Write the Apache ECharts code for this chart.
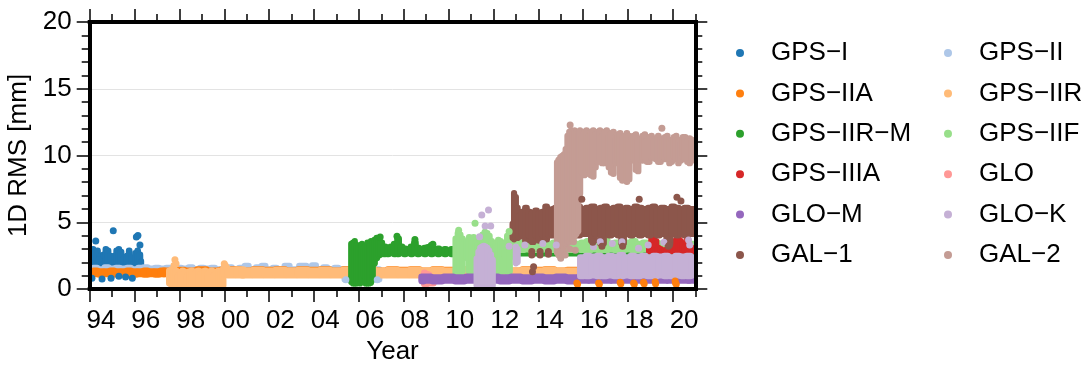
<!DOCTYPE html>
<html>
<head>
<meta charset="utf-8">
<script src="https://cdn.jsdelivr.net/npm/echarts@6/dist/echarts.min.js"></script>
<style>
  html, body { margin: 0; padding: 0; background: #fff; }
  #chart { width: 1091px; height: 365px; }
</style>
</head>
<body>
<div id="chart"></div>
<script>
// ---- data: satellite-block RMS clouds, [year, low, high] envelopes plus single points [year, value] ----
const gpsI_band = [[1994.05,1.3,3.0],[1994.15,1.3,3.1],[1994.25,1.3,2.9],[1994.35,1.3,3.0],[1994.45,1.3,2.6],[1994.53,1.3,2.0],[1994.62,1.3,2.7],[1994.72,1.3,3.1],[1994.82,1.3,3.0],[1994.92,1.3,2.6],[1995.0,1.3,2.0],[1995.1,1.3,2.6],[1995.2,1.3,3.0],[1995.3,1.3,3.1],[1995.4,1.3,2.9],[1995.5,1.3,2.4],[1995.58,1.3,1.9],[1995.66,1.3,2.6],[1995.76,1.3,3.0],[1995.86,1.3,2.5],[1995.95,1.3,2.0],[1996.04,1.3,2.8],[1996.14,1.3,3.0],[1996.24,1.3,2.7],[1996.3,1.3,2.2]];
const gpsI_dots = [[1994.1,0.8],[1994.27,3.6],[1994.55,0.75],[1994.95,0.8],[1995.05,4.37],[1995.3,0.95],[1995.6,0.9],[1996.08,3.9],[1996.15,4.0],[1996.24,3.3],[1994.4,2.2],[1995.9,0.8]];

const gpsII_band = [[1994.0,1.1,1.65],[1994.25,1.1,1.7],[1994.5,1.1,1.6],[1994.75,1.1,1.75],[1995.0,1.1,1.65],[1995.25,1.1,1.7],[1995.5,1.1,1.65],[1995.75,1.1,1.7],[1996.0,1.1,1.6],[1996.25,1.1,1.7],[1996.5,1.1,1.75],[1996.75,1.1,1.65],[1997.0,1.1,1.7],[1997.25,1.1,1.65],[1997.5,1.1,1.7],[1997.75,1.1,1.6],[1998.0,1.1,1.7],[1998.25,1.1,1.65],[1998.5,1.1,1.75],[1998.75,1.1,1.6],[1999.0,1.1,1.7],[1999.25,1.1,1.65],[1999.5,1.1,1.7],[1999.75,1.1,1.6],[2000.0,1.1,1.65],[2000.25,1.1,1.75],[2000.5,1.1,1.6],[2000.75,1.1,1.7],[2001.0,1.1,1.85],[2001.25,1.1,1.6],[2001.5,1.1,1.75],[2001.75,1.1,1.85],[2002.0,1.1,1.6],[2002.25,1.1,1.7],[2002.5,1.1,1.6],[2002.8,1.1,1.85],[2003.1,1.1,1.6],[2003.5,1.1,1.85],[2003.75,1.1,1.6],[2004.0,1.1,1.9],[2004.25,1.1,1.6],[2004.5,1.1,1.75],[2004.75,1.1,1.6],[2005.0,1.1,1.7],[2005.25,1.0,1.6],[2005.45,0.6,1.6],[2005.7,0.9,1.6],[2006.0,0.9,1.7],[2006.25,1.0,1.6],[2006.5,1.0,1.7],[2006.8,0.6,1.6]];
const gpsII_dots = [[2005.42,0.7],[2006.82,0.7]];

const gpsIIA_band = [[1994.0,0.95,1.45],[1994.25,1.0,1.5],[1994.5,0.95,1.45],[1994.75,1.0,1.45],[1995.0,0.95,1.5],[1995.25,1.0,1.45],[1995.5,0.95,1.45],[1995.75,1.0,1.5],[1996.0,0.95,1.45],[1996.25,1.0,1.45],[1996.5,0.95,1.5],[1996.75,1.0,1.45],[1997.0,0.95,1.45],[1997.25,1.0,1.5],[1997.5,1.0,1.5],[1998.0,1.0,1.55],[1998.5,1.0,1.5],[1999.0,1.0,1.6],[1999.5,1.0,1.5],[2000.0,1.0,1.55],[2000.5,1.0,1.6],[2001.0,1.0,1.5],[2001.5,1.0,1.6],[2002.0,1.0,1.55],[2002.5,1.0,1.6],[2003.0,1.0,1.5],[2003.5,1.0,1.6],[2004.0,1.0,1.55],[2004.5,1.0,1.6],[2005.0,1.0,1.5],[2005.5,1.0,1.6],[2006.0,1.0,1.55],[2006.5,1.0,1.6],[2007.0,1.0,1.5],[2007.5,1.0,1.6],[2008.0,1.0,1.55],[2008.5,1.0,1.6],[2009.0,1.0,1.5],[2009.5,1.0,1.6],[2010.0,1.0,1.55],[2010.5,1.0,1.6],[2011.0,1.0,1.5],[2011.5,1.0,1.6],[2012.0,1.0,1.55],[2012.5,1.0,1.6],[2013.0,1.0,1.5],[2013.5,1.0,1.6],[2014.0,1.0,1.55],[2014.5,1.0,1.6],[2015.0,1.0,1.5],[2015.5,1.0,1.55],[2016.0,1.0,1.5],[2016.5,1.0,1.5],[2017.0,1.0,1.5],[2017.5,1.0,1.5],[2018.0,1.0,1.5],[2018.5,1.0,1.5],[2019.0,1.0,1.5],[2019.5,1.0,1.5],[2020.0,1.0,1.5],[2020.5,1.0,1.5],[2020.85,1.0,1.45]];
const gpsIIA_dots = [[2015.72,0.45],[2015.75,0.35],[2016.69,0.45],[2016.72,0.35],[2017.65,0.5],[2017.68,0.4],[2018.25,0.45],[2018.28,0.35],[2018.69,0.5],[2018.72,0.4],[2019.21,0.55],[2019.23,0.4],[2020.1,0.6],[2020.12,0.45],[2020.15,0.35]];

const gpsIIR_band = [[1997.55,0.3,1.5],[1997.65,0.15,1.6],[1997.75,0.1,1.9],[1997.85,0.15,1.5],[1997.95,0.3,1.2],[1998.05,0.15,1.4],[1998.15,0.1,1.5],[1998.25,0.2,1.4],[1998.35,0.4,1.15],[1998.45,0.15,1.45],[1998.55,0.1,1.5],[1998.65,0.2,1.2],[1998.75,0.1,1.45],[1998.85,0.15,1.5],[1998.95,0.3,1.2],[1999.05,0.1,1.45],[1999.15,0.15,1.5],[1999.25,0.35,1.2],[1999.35,0.1,1.45],[1999.45,0.15,1.5],[1999.55,0.3,1.15],[1999.65,0.1,1.4],[1999.75,0.15,1.5],[1999.85,0.1,1.45],[1999.95,0.15,1.6],[2000.05,0.95,1.7],[2000.3,0.9,1.55],[2000.7,0.9,1.6],[2001.0,0.9,1.5],[2001.5,0.9,1.55],[2002.0,0.9,1.5],[2002.5,0.9,1.55],[2003.0,0.9,1.5],[2003.5,0.9,1.55],[2004.0,0.9,1.5],[2004.5,0.9,1.55],[2005.0,0.9,1.5],[2005.5,0.9,1.55],[2006.0,0.9,1.5],[2006.5,0.9,1.55],[2007.0,0.9,1.5],[2007.5,0.9,1.55],[2008.0,0.9,1.5],[2008.5,0.9,1.55],[2009.0,0.9,1.5],[2009.5,0.9,1.55],[2010.0,0.9,1.5],[2010.5,0.9,1.55],[2011.0,0.9,1.5],[2011.5,0.9,1.55],[2012.0,0.9,1.5],[2012.5,0.9,1.55],[2013.0,0.9,1.5],[2013.5,0.9,1.55],[2014.0,0.9,1.5],[2014.5,0.9,1.55],[2015.0,0.9,1.5],[2015.5,0.9,1.5],[2016.0,0.9,1.45],[2017.0,0.9,1.45],[2018.0,0.9,1.45],[2019.0,0.9,1.45],[2020.0,0.9,1.45],[2020.85,0.9,1.45]];
const gpsIIR_dots = [[1997.8,2.2],[1997.85,1.9],[2000.0,1.9],[2000.05,1.75]];

const gpsIIRM_band = [[2005.66,0.4,3.5],[2005.74,0.3,3.6],[2005.82,0.3,3.7],[2005.9,0.3,3.4],[2005.98,0.35,3.2],[2006.06,0.3,3.4],[2006.14,0.5,3.5],[2006.22,0.9,3.2],[2006.3,0.3,3.3],[2006.38,0.3,3.6],[2006.46,0.3,3.5],[2006.54,0.35,3.7],[2006.62,0.6,3.6],[2006.7,1.8,3.8],[2006.8,2.2,3.95],[2006.9,2.4,3.8],[2007.0,2.5,3.6],[2007.15,2.5,3.3],[2007.3,2.5,3.2],[2007.45,2.6,3.3],[2007.6,2.5,3.5],[2007.75,2.5,3.9],[2007.9,2.6,3.3],[2008.05,2.5,3.15],[2008.2,2.6,3.1],[2008.35,2.5,3.3],[2008.5,2.6,3.6],[2008.65,2.5,3.2],[2008.8,2.6,3.1],[2008.95,2.5,3.2],[2009.1,2.6,3.25],[2009.25,2.5,3.4],[2009.4,2.6,3.1],[2009.55,2.5,3.15],[2009.7,2.6,3.0],[2009.85,2.5,3.1],[2010.0,2.6,3.0],[2010.15,2.5,3.1],[2010.3,2.5,3.0],[2010.5,2.5,3.0],[2011.0,2.5,2.95],[2011.5,2.45,3.0],[2012.0,2.5,2.95],[2012.5,2.5,3.0],[2013.0,2.55,2.95],[2013.5,2.55,3.0],[2014.0,2.55,2.95],[2014.5,2.55,3.0],[2015.0,2.55,2.95],[2015.5,2.55,3.0],[2016.0,2.55,2.95],[2016.5,2.55,3.0],[2017.0,2.55,2.95],[2017.5,2.55,3.0],[2018.0,2.55,2.95],[2018.5,2.55,3.0],[2019.0,2.55,2.95],[2019.5,2.55,3.0],[2020.0,2.55,2.95],[2020.5,2.55,3.0],[2020.85,2.55,2.95]];
const gpsIIRM_dots = [[2006.95,3.9],[2007.7,3.95],[2008.5,3.7],[2009.3,3.35]];

const gpsIIF_band = [[2010.32,1.1,3.9],[2010.42,1.05,4.3],[2010.52,1.05,4.2],[2010.62,1.2,3.9],[2010.72,2.4,3.6],[2010.82,2.2,3.7],[2010.92,1.2,4.0],[2011.02,1.1,3.9],[2011.12,1.15,4.0],[2011.22,2.2,3.6],[2011.32,2.3,3.5],[2011.42,2.3,3.9],[2011.52,2.3,4.2],[2011.62,1.6,4.4],[2011.72,1.6,4.3],[2011.82,1.6,4.1],[2011.92,2.2,3.7],[2012.02,2.3,3.5],[2012.12,1.2,3.6],[2012.22,1.15,3.8],[2012.32,1.15,3.7],[2012.42,1.2,3.5],[2012.52,2.3,3.6],[2012.62,1.15,4.1],[2012.72,1.2,4.2],[2012.82,2.3,3.7],[2012.92,2.5,3.5],[2013.0,2.8,3.5],[2013.25,2.8,3.6],[2013.5,2.85,3.4],[2013.75,2.8,3.6],[2014.0,2.8,3.5],[2014.25,2.85,3.6],[2014.5,2.8,3.5],[2014.75,2.8,3.6],[2015.0,2.85,3.5],[2015.25,2.8,3.6],[2015.5,2.8,3.7],[2015.75,2.85,3.5],[2016.0,2.8,3.6],[2016.25,2.8,3.7],[2016.5,2.85,3.5],[2016.75,2.8,3.6],[2017.0,2.8,3.8],[2017.25,2.85,3.5],[2017.5,2.8,3.6],[2017.75,2.8,3.5],[2018.0,2.85,3.6],[2018.25,2.8,3.7],[2018.5,2.8,3.5],[2018.75,2.85,3.6],[2019.0,2.8,3.5],[2019.25,2.8,3.6],[2019.5,2.85,3.5],[2019.75,2.8,3.6],[2020.0,2.8,3.5],[2020.25,2.85,3.6],[2020.5,2.8,3.5],[2020.85,2.8,3.5]];
const gpsIIF_dots = [[2011.18,4.92],[2010.45,4.4],[2012.7,4.3]];

const gpsIIIA_band = [[2018.95,2.7,3.4],[2019.05,2.7,3.9],[2019.15,2.7,4.3],[2019.25,2.7,3.7],[2019.35,2.7,3.2],[2019.45,2.7,3.1],[2019.55,2.8,3.0],[2019.65,2.8,3.0],[2019.75,2.7,3.1],[2019.85,2.7,3.3],[2019.95,2.7,3.6],[2020.05,2.7,3.5],[2020.15,2.7,3.8],[2020.25,2.7,4.2],[2020.35,2.7,3.7],[2020.45,2.7,3.5],[2020.55,2.7,3.3],[2020.65,2.7,3.9],[2020.75,2.7,3.4],[2020.85,2.7,3.2]];
const gpsIIIA_dots = [];

const glo_band = [[2008.92,0.25,1.35],[2009.02,0.25,1.25],[2009.12,0.3,1.2],[2009.22,0.3,1.0],[2009.32,0.3,0.8]];
const glo_dots = [];

const gloM_band = [[2008.85,0.45,1.0],[2009.0,0.5,1.05],[2009.5,0.45,1.0],[2010.0,0.5,1.05],[2010.5,0.45,1.0],[2011.0,0.5,1.05],[2011.5,0.45,1.0],[2012.0,0.5,1.05],[2012.5,0.45,1.0],[2013.0,0.5,1.05],[2013.5,0.45,1.0],[2014.0,0.5,1.05],[2014.5,0.45,1.0],[2015.0,0.5,1.05],[2015.5,0.45,1.0],[2016.0,0.5,1.0],[2016.5,0.5,1.0],[2017.0,0.5,1.0],[2017.5,0.5,1.0],[2018.0,0.5,1.0],[2018.5,0.5,1.0],[2019.0,0.5,1.0],[2019.5,0.5,1.0],[2020.0,0.5,1.0],[2020.5,0.5,1.0],[2020.85,0.5,1.0]];
const gloM_dots = [];

const gloK_band = [[2011.25,0.15,2.4],[2011.33,0.1,2.9],[2011.41,0.1,3.2],[2011.49,0.1,3.3],[2011.57,0.1,3.35],[2011.65,0.1,3.3],[2011.73,0.1,3.2],[2011.81,0.1,3.0],[2011.89,0.1,2.7],[2011.97,0.15,2.3],[2013.0,1.8,3.3],[2013.08,1.9,3.1],[2015.95,0.85,2.5],[2016.2,0.85,2.6],[2016.45,0.9,2.55],[2016.7,0.85,2.6],[2016.95,0.85,2.5],[2017.2,0.9,2.6],[2017.45,0.85,2.55],[2017.7,0.85,2.65],[2017.95,0.9,2.5],[2018.2,0.85,2.6],[2018.45,0.85,2.55],[2018.7,0.9,2.6],[2018.95,0.85,2.5],[2019.2,0.85,2.6],[2019.45,0.9,2.55],[2019.7,0.85,2.6],[2019.95,0.85,2.5],[2020.2,0.9,2.6],[2020.45,0.85,2.55],[2020.7,0.85,2.6],[2020.85,0.9,2.5]];
const gloK_dots = [[2011.48,5.54],[2011.78,5.92],[2011.63,4.72],[2011.88,4.72],[2011.38,3.92],[2012.7,3.2],[2013.4,3.3],[2014.2,3.4],[2014.8,3.3],[2016.46,3.17],[2016.76,3.54],[2017.3,3.4],[2017.73,3.54],[2018.47,3.05],[2018.9,3.3],[2019.6,3.5],[2020.7,3.67],[2020.75,3.3]];

const gal1_band = [[2012.85,3.7,5.0],[2012.92,3.6,7.3],[2013.0,3.7,7.0],[2013.08,3.7,6.2],[2013.16,3.8,5.6],[2013.3,3.9,5.9],[2013.45,3.5,6.2],[2013.6,3.9,5.9],[2013.75,3.4,5.8],[2013.9,3.9,6.0],[2014.05,3.5,5.8],[2014.2,3.9,5.9],[2014.35,3.6,6.3],[2014.5,3.9,6.0],[2014.65,3.9,6.1],[2014.8,4.0,6.2],[2015.0,3.9,6.1],[2015.2,4.0,6.3],[2015.4,3.9,6.1],[2015.6,4.0,6.2],[2015.8,3.9,6.3],[2016.0,4.0,6.1],[2016.2,4.0,6.2],[2016.43,3.5,6.3],[2016.6,4.0,6.1],[2016.84,3.3,6.2],[2017.0,4.0,6.3],[2017.2,3.9,6.1],[2017.4,4.0,6.2],[2017.6,3.9,6.3],[2017.76,3.3,6.1],[2017.95,4.0,6.2],[2018.15,3.9,6.1],[2018.35,4.0,6.3],[2018.55,3.9,6.2],[2018.75,4.0,6.1],[2018.95,3.9,6.2],[2019.15,4.0,6.3],[2019.35,3.9,6.1],[2019.55,4.0,6.2],[2019.8,3.3,6.1],[2020.0,4.0,6.3],[2020.2,3.9,6.2],[2020.4,4.0,6.1],[2020.6,3.9,6.2],[2020.85,4.0,6.1]];
const gal1_dots = [[2013.71,2.8],[2013.71,2.55],[2014.08,2.8],[2014.08,2.55],[2014.45,2.8],[2014.45,2.6],[2013.79,1.67],[2013.74,1.3],[2015.94,6.72],[2018.5,6.72],[2020.18,6.87],[2020.36,6.6],[2016.84,3.2],[2017.76,3.2],[2019.8,3.2],[2016.43,3.5],[2019.85,3.3]];

const gal2_band = [[2014.83,2.6,9.6],[2014.9,2.4,9.8],[2014.98,2.5,10.0],[2015.06,2.8,10.1],[2015.14,3.0,10.2],[2015.22,3.2,10.6],[2015.3,3.3,11.6],[2015.38,3.4,11.9],[2015.46,3.6,12.0],[2015.54,3.5,11.8],[2015.62,3.8,12.0],[2015.7,4.0,11.9],[2015.78,4.2,11.8],[2015.86,7.0,12.0],[2015.95,8.6,11.6],[2016.05,8.4,11.9],[2016.15,8.5,12.0],[2016.25,8.8,11.6],[2016.35,8.4,11.9],[2016.45,8.3,12.0],[2016.55,9.0,11.7],[2016.65,9.4,11.9],[2016.75,9.5,12.0],[2016.85,9.3,11.6],[2016.95,9.3,11.9],[2017.05,9.5,12.0],[2017.15,9.0,11.6],[2017.25,8.6,11.8],[2017.35,8.5,11.9],[2017.45,9.3,11.5],[2017.55,9.5,11.7],[2017.65,8.2,11.8],[2017.75,8.0,11.5],[2017.85,9.2,11.6],[2017.95,7.9,11.8],[2018.05,8.1,11.6],[2018.15,9.5,11.3],[2018.25,9.6,11.6],[2018.35,8.8,11.7],[2018.45,8.7,11.4],[2018.55,9.6,11.3],[2018.65,9.5,11.6],[2018.75,9.7,11.7],[2018.85,9.4,11.3],[2018.95,9.4,11.5],[2019.05,9.7,11.6],[2019.15,9.8,11.3],[2019.25,9.6,11.4],[2019.35,9.4,11.6],[2019.45,9.4,11.4],[2019.55,9.8,11.2],[2019.65,9.6,11.5],[2019.75,9.8,11.6],[2019.85,9.3,11.3],[2019.95,9.4,11.2],[2020.05,9.8,11.5],[2020.15,9.6,11.6],[2020.25,9.3,11.3],[2020.35,9.5,11.2],[2020.45,9.8,11.5],[2020.55,9.6,11.5],[2020.65,9.4,11.2],[2020.75,9.3,11.4],[2020.85,9.5,11.3]];
const gal2_dots = [[2015.42,12.28],[2019.51,12.04],[2015.12,2.8],[2015.2,2.55],[2015.57,3.54],[2015.65,2.9],[2015.0,2.3],[2015.4,3.0]];

// ---- axis ticks / labels ----
const majorYears = [1994,1996,1998,2000,2002,2004,2006,2008,2010,2012,2014,2016,2018,2020];
const minorYears = [1995,1997,1999,2001,2003,2005,2007,2009,2011,2013,2015,2017,2019,2021];
const yearLabels = ['94','96','98','00','02','04','06','08','10','12','14','16','18','20'];

// ---- groups in drawing order (later ones on top) ----
const groups = [
  { name: 'GPS\u2212I',      color: '#1f77b4', band: gpsI_band,     dots: gpsI_dots },
  { name: 'GPS\u2212II',     color: '#aec7e8', band: gpsII_band,    dots: gpsII_dots },
  { name: 'GPS\u2212IIA',    color: '#ff7f0e', band: gpsIIA_band,   dots: gpsIIA_dots },
  { name: 'GPS\u2212IIR',    color: '#ffbb78', band: gpsIIR_band,   dots: gpsIIR_dots },
  { name: 'GPS\u2212IIR\u2212M', color: '#2ca02c', band: gpsIIRM_band, dots: gpsIIRM_dots },
  { name: 'GPS\u2212IIF',    color: '#98df8a', band: gpsIIF_band,   dots: gpsIIF_dots },
  { name: 'GPS\u2212IIIA',   color: '#d62728', band: gpsIIIA_band,  dots: gpsIIIA_dots },
  { name: 'GLO',             color: '#ff9896', band: glo_band,      dots: glo_dots },
  { name: 'GLO\u2212M',      color: '#9467bd', band: gloM_band,     dots: gloM_dots },
  { name: 'GLO\u2212K',      color: '#c5b0d5', band: gloK_band,     dots: gloK_dots },
  { name: 'GAL\u22121',      color: '#8c564b', band: gal1_band,     dots: gal1_dots },
  { name: 'GAL\u22122',      color: '#c49c94', band: gal2_band,     dots: gal2_dots }
];
const legendLeftCol  = [0, 2, 4, 6, 8, 10].map(i => groups[i].name);
const legendRightCol = [1, 3, 5, 7, 9, 11].map(i => groups[i].name);

const FONT = "'Liberation Sans', Arial, Helvetica, sans-serif";

// Each envelope sample becomes a rounded column spanning [low, high],
// widened by a dot radius so neighbouring columns merge into a cloud
function bandRenderer(rows, color) {
  return function (params, api) {
    const i = params.dataIndex;
    const top = api.coord([rows[i][0], rows[i][2]]);
    const bot = api.coord([rows[i][0], rows[i][1]]);
    const cx = top[0];
    const px = i > 0 ? api.coord([rows[i - 1][0], 0])[0] : null;
    const nx = i < rows.length - 1 ? api.coord([rows[i + 1][0], 0])[0] : null;
    let dPrev = px === null ? null : cx - px;
    let dNext = nx === null ? null : nx - cx;
    if (dPrev === null) dPrev = dNext === null ? 4 : dNext;
    if (dNext === null) dNext = dPrev;
    if (dPrev > 12) dPrev = Math.min(dNext, 12);
    if (dNext > 12) dNext = Math.min(dPrev, 12);
    const half = Math.max(dPrev, dNext) / 2 + 2.2;
    const y0 = top[1] - 1.5;
    const h = Math.max(bot[1] - top[1] + 3, 3);
    return {
      type: 'rect',
      shape: { x: cx - half, y: y0, width: half * 2, height: h, r: Math.min(3.2, half, h / 2) },
      style: { fill: color }
    };
  };
}

const series = [];
groups.forEach(g => {
  series.push({
    type: 'custom', name: g.name, silent: true, clip: true,
    itemStyle: { color: g.color },
    encode: { x: 0, y: [1, 2] },
    data: g.band,
    renderItem: bandRenderer(g.band, g.color)
  });
  series.push({
    type: 'scatter', name: g.name, silent: true, clip: true,
    symbol: 'circle', symbolSize: 7,
    itemStyle: { color: g.color, opacity: 1 },
    data: g.dots
  });
});

const tickLine = { color: '#000', width: 1.5 };
const frameLine = { show: true, onZero: false, lineStyle: { color: '#000', width: 4, cap: 'square' } };

const legendBase = {
  orient: 'vertical', top: 38, padding: 0, itemGap: 10.4,
  itemWidth: 8, itemHeight: 8, icon: 'circle', selectedMode: false,
  textStyle: { fontFamily: FONT, fontSize: 26, color: '#000', lineHeight: 30, padding: [0, 0, 0, 22] }
};

const option = {
  animation: false,
  backgroundColor: '#fff',
  textStyle: { fontFamily: FONT },
  grid: { left: 89.7, right: 395.7, top: 22, bottom: 76, containLabel: false, outerBoundsMode: 'none' },
  legend: [
    Object.assign({}, legendBase, { left: 736, data: legendLeftCol }),
    Object.assign({}, legendBase, { left: 944, data: legendRightCol })
  ],
  xAxis: [
    { // bottom: frame, long ticks, year labels
      type: 'value', position: 'bottom', min: 1994, max: 2021, z: 10,
      axisLine: frameLine,
      axisTick: { show: true, length: 13, lineStyle: tickLine, customValues: majorYears },
      axisLabel: {
        show: true, fontFamily: FONT, fontSize: 26, color: '#000', margin: 19,
        customValues: majorYears.map(y => y + 0.5),
        formatter: v => yearLabels[majorYears.indexOf(Math.floor(v))] || ''
      },
      splitLine: { show: false },
      name: 'Year', nameLocation: 'middle', nameGap: 50,
      nameTextStyle: { fontFamily: FONT, fontSize: 26, color: '#000' }
    },
    { // bottom short ticks
      type: 'value', position: 'bottom', min: 1994, max: 2021, z: 10,
      axisLine: { show: false, onZero: false },
      axisTick: { show: true, length: 8, lineStyle: tickLine, customValues: minorYears },
      axisLabel: { show: false }, splitLine: { show: false }
    },
    { // top frame, long ticks
      type: 'value', position: 'top', min: 1994, max: 2021, z: 10,
      axisLine: frameLine,
      axisTick: { show: true, length: 13, lineStyle: tickLine, customValues: majorYears },
      axisLabel: { show: false }, splitLine: { show: false }
    },
    { // top short ticks
      type: 'value', position: 'top', min: 1994, max: 2021, z: 10,
      axisLine: { show: false, onZero: false },
      axisTick: { show: true, length: 8, lineStyle: tickLine, customValues: minorYears },
      axisLabel: { show: false }, splitLine: { show: false }
    }
  ],
  yAxis: [
    {
      type: 'value', position: 'left', min: 0, max: 20, interval: 5, z: 10,
      axisLine: frameLine,
      axisTick: { show: true, length: 13, lineStyle: tickLine },
      minorTick: { show: true, splitNumber: 5, length: 8, lineStyle: tickLine },
      axisLabel: { fontFamily: FONT, fontSize: 26, color: '#000', margin: 18 },
      splitLine: { show: false },
      name: '1D RMS [mm]', nameLocation: 'middle', nameGap: 52, nameRotate: 90,
      nameTextStyle: { fontFamily: FONT, fontSize: 26, color: '#000' }
    },
    {
      type: 'value', position: 'right', min: 0, max: 20, interval: 5, z: 10,
      axisLine: frameLine,
      axisTick: { show: true, length: 12, lineStyle: tickLine },
      minorTick: { show: true, splitNumber: 5, length: 7, lineStyle: tickLine },
      axisLabel: { show: false }, splitLine: { show: false }
    },
    { // horizontal grid lines behind the data
      type: 'value', position: 'left', min: 0, max: 20, interval: 5, z: 0,
      axisLine: { show: false }, axisTick: { show: false }, axisLabel: { show: false },
      splitLine: { show: true, lineStyle: { color: '#e3e3e3', width: 1 } }
    }
  ],
  series: series
};

const chart = echarts.init(document.getElementById('chart'), null, { renderer: 'canvas' });
chart.setOption(option);
</script>
</body>
</html>
